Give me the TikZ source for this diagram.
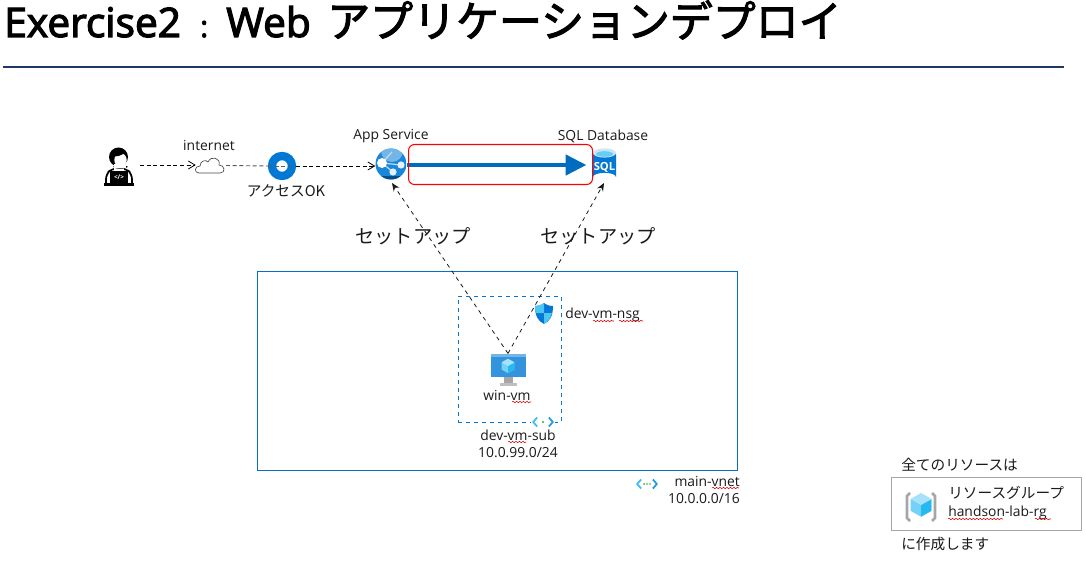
\documentclass[tikz,border=0pt]{standalone}
\usepackage{fontspec}
\setmainfont{Open Sans}
\newfontfamily\jp{Noto Sans CJK JP}
\newfontfamily\titlefont[FakeBold=3]{Open Sans}
\newfontfamily\titlejp[FakeBold=2.5]{Noto Sans CJK JP}
\usetikzlibrary{arrows.meta,decorations.pathmorphing}
\definecolor{azure}{HTML}{0078D4}
\definecolor{azline}{HTML}{0A6FC2}
\definecolor{navy}{HTML}{1F3864}
\definecolor{txt}{HTML}{1A1A1A}
\definecolor{chev}{HTML}{3CBDF2}
\definecolor{chevd}{HTML}{1E9BE8}
\tikzset{
 x=0.75pt,y=-0.75pt,
 lbl/.style={inner sep=0pt,text=txt,font=\fontsize{10.4pt}{13pt}\selectfont,align=center},
 lblj/.style={inner sep=0pt,text=txt,font=\jp\fontsize{11pt}{13pt}\selectfont},
 setup/.style={inner sep=0pt,text=txt,font=\jp\fontsize{14.4pt}{16pt}\selectfont},
 ttl/.style={inner sep=0pt,text=black,anchor=base west},
 anchorbox/.style={inner sep=0pt,minimum width=#1,minimum height=#1},
 flow/.style={densely dashed,line width=0.6pt,black,-{Straight Barb[length=5pt,width=6pt]}},
 flowgray/.style={densely dashed,line width=0.7pt,black!65},
 setupline/.style={dashed,line width=0.6pt,black!90,-{Stealth[length=6pt,width=5pt]}},
 squig/.style={red!85!black,line width=0.4pt,decorate,decoration={snake,amplitude=0.55pt,segment length=2.6pt}},
}
\newcommand{\vneticon}[1]{%
 \draw[line width=1.3pt,chev,line join=round] ([xshift=-4.4pt,yshift=3.4pt]#1) -- ([xshift=-7.4pt]#1) -- ([xshift=-4.4pt,yshift=-3.4pt]#1);
 \draw[line width=1.3pt,chevd,line join=round] ([xshift=4.4pt,yshift=3.4pt]#1) -- ([xshift=7.4pt]#1) -- ([xshift=4.4pt,yshift=-3.4pt]#1);
}
\newcommand{\cube}[3]{%
 \fill[#3!55!white] (#1,#2) ++(0,-9) -- ++(8,4.5) -- ++(0,9) -- ++(-8,4.5) -- ++(-8,-4.5) -- ++(0,-9) -- cycle;
 \fill[#3!85!white] (#1,#2) -- ++(8,-4.5) -- ++(0,9) -- ++(-8,4.5) -- cycle;
 \fill[#3!35!white] (#1,#2) -- ++(8,-4.5) -- ++(-8,-4.5) -- ++(-8,4.5) -- cycle;
}
\begin{document}
\begin{tikzpicture}
\useasboundingbox (0,0) rectangle (1086,563);
\fill[white] (0,0) rectangle (1086,563);

% title
\node[ttl,font=\titlefont\fontsize{30.5pt}{34pt}\selectfont] (title) at (4,37) {Exercise2};
\node[ttl,font=\titlefont\fontsize{22pt}{24pt}\selectfont] (colon) at (200,37) {:};
\node[ttl,font=\titlefont\fontsize{30.5pt}{34pt}\selectfont] (web) at (226,37) {Web};
\node[ttl,font=\titlejp\fontsize{32.2pt}{34pt}\selectfont] (jptitle) at (327,37) {アプリケーションデプロイ};
\coordinate (ruleL) at (3,67); \coordinate (ruleR) at (1064,67);
\draw[navy,line width=1pt] (ruleL) -- (ruleR);

% containers
\node[draw=azline,line width=0.7pt,inner sep=0pt,minimum width=360pt,minimum height=149.25pt,anchor=north west] (vnet) at (256.7,271) {};
\node[draw=azure,dashed,line width=0.7pt,inner sep=0pt,minimum width=77.25pt,minimum height=94.5pt,anchor=north west] (sub) at (457.7,296) {};

% anchors for icons
\node[anchorbox=23pt] (user) at (119,167) {};
\node[anchorbox=12pt,minimum width=21pt] (cloud) at (210,165) {};
\node[circle,draw=azure,line width=6.2pt,fill=white,minimum size=15pt,inner sep=0pt] (access) at (282,166) {};
\node[circle,inner sep=0pt,minimum size=23.2pt] (app) at (391,164) {};
\node[anchorbox=24pt,minimum width=18pt] (sql) at (604,165) {};
\node[anchorbox=26pt] (vm) at (508,371) {};
\node[anchorbox=16pt] (nsg) at (544,313) {};

% user icon
\fill[black] (118.5,157) circle (9.5);
\fill[white] (120.5,160) ellipse (6.2 and 6.8);
\fill[black] (112,156) .. controls (116,157) and (122,156) .. (125,152) -- (120,148) -- (112,151) -- cycle;
\draw[black,line width=1.3pt,fill=white,rounded corners=4pt] (106,184) -- (106,174) -- (112,168.5) -- (126,168.5) -- (132,174) -- (132,184);
\fill[white] (114,166) rectangle (124,170);
\draw[black,line width=1pt] (120.5,166.8) ellipse (6 and 1.2);
\fill[white] (114,164) rectangle (126,168);
\fill[black] (110,171) rectangle (128,184);
\fill[black] (104,183) rectangle (134,186);
\node[inner sep=0pt,text=white,font=\fontsize{4.8pt}{5pt}\bfseries\selectfont] (code) at (119,177) {</>};

% cloud icon
\draw[black!70,line width=0.5pt,fill=white] (199,173) .. controls (194,173) and (194,166) .. (200,166)
  .. controls (200,161) and (206,159) .. (208,162) .. controls (211,155) and (221,158) .. (219,165)
  .. controls (225,165) and (226,173) .. (220,173) -- cycle;

% flows
\draw[flow] (140,165) -- (cloud.west);
\draw[flowgray] (226,165.5) -- (access.west);
\draw[flowgray] (access.west) -- (access.east);
\draw[flow] (access.east) -- (access.east -| app.west);

% app service icon
\begin{scope}
\clip (391,164) circle (15.5);
\fill[azure!90!white] (375,148) rectangle (407,180);
\fill[azure!55!white] (392,151) circle (11);
\fill[black!35!azure] (376,176) rectangle (406,182);
\end{scope}
\draw[white!75!azure,line width=0.9pt] (382,163) -- (401,165) (382,163) -- (393,172) (382,163) -- (392,152);
\fill[white] (382,163) circle (5);
\fill[white!90!azure] (401,165) circle (3.6);
\fill[white!90!azure] (393,172) circle (3.6);

% sql icon
\fill[azure] (593,154) -- (593,177) arc (180:360:11.5 and 4.2) -- (616,154) -- cycle;
\fill[white!80!azure] (604.5,153) ellipse (11.5 and 4.6);
\fill[cyan!60] (604.5,154) ellipse (8.5 and 2.8);
\node[inner sep=0pt,text=white,font=\bfseries\fontsize{8.4pt}{9pt}\selectfont] (sqltxt) at (604.5,167) {SQL};

% blue arrow + red box
\draw[azure!90!black,line width=3pt,-{Triangle[length=15.5pt,width=15pt]},shorten >=4pt] (app.east |- sql.west) -- (sql.west);
\node[draw=red,line width=0.8pt,rounded corners=4.5pt,inner sep=0pt,minimum width=138pt,minimum height=30pt,anchor=north west] (redbox) at (408,144) {};

% vm icon
\fill[azure!80!white] (491,354) rectangle (526,377);
\fill[azure!55!white] (491,354) rectangle (526,357);
\fill[black!35] (504,377) rectangle (513,383);
\fill[black!25] (500,383) rectangle (517,386);
\begin{scope}[shift={(508,366)},scale=0.8]
\cube{0}{0}{cyan}
\end{scope}

% setup lines
\draw[setupline] (vm.north) -- (392,183);
\draw[setupline] (vm.north) -- (604,183);

% nsg shield
\fill[azure] (544,303) .. controls (548,306) and (551,306) .. (553,306) .. controls (553,316) and (550,321) .. (544,324) .. controls (538,321) and (535,316) .. (535,306) .. controls (537,306) and (540,306) .. (544,303) -- cycle;
\fill[cyan!70] (544,303) .. controls (540,306) and (537,306) .. (535,306) .. controls (535,309) and (535.3,311) .. (536,313) -- (544,313) -- cycle;
\fill[cyan!70] (544,313) -- (552,313) .. controls (550.5,318) and (548,322) .. (544,324) -- cycle;

% subnet + vnet icons
\coordinate (subicon) at (543,422);
\fill[white] (531,416) rectangle (555,428);
\vneticon{subicon}
\fill[green!60!black!80] (subicon) circle (0.9pt);
\coordinate (vneticon) at (647,484);
\vneticon{vneticon}
\foreach \dx in {-2.2,0,2.2} \fill[green!60!black!80] ([xshift=\dx pt]vneticon) circle (0.7pt);

% resource group
\node[draw=black!35,line width=0.8pt,inner sep=0pt,minimum width=142.5pt,minimum height=39.75pt,anchor=north west] (rg) at (891,477) {};
\begin{scope}[shift={(921,505)},scale=1.3]
\cube{0}{0}{cyan}
\end{scope}
\draw[black!35,line width=2pt] (910,493) -- (907,496) -- (907,518) -- (910,521);
\draw[black!35,line width=2pt] (932,493) -- (935,496) -- (935,518) -- (932,521);

% labels
\node[lbl] (linternet) at (209,145) {internet};
\node[lblj] (laccess) at (286,191) {アクセスOK};
\node[lbl] (lapp) at (391,136) {App Service};
\node[lbl] (lsql) at (603,136) {SQL Database};
\node[setup] (s1) at (413,236) {セットアップ};
\node[setup] (s2) at (598,236) {セットアップ};
\node[lbl] (lvm) at (507,395) {win-vm};
\node[lbl,anchor=west] (lnsg) at (565,315) {dev-vm-nsg};
\node[lbl] (lsub) at (518,444) {dev-vm-sub\\10.0.99.0/24};
\node[lbl,align=right,anchor=east] (lvnet) at (740,490) {main-vnet\\10.0.0.0/16};
\node[lblj,anchor=west] (all) at (901,465) {全てのリソースは};
\node[lblj,anchor=west] (rg1) at (948,493) {リソースグループ};
\node[lbl,anchor=west] (rg2) at (948,513) {handson-lab-rg};
\node[lblj,anchor=west] (made) at (901,544) {に作成します};

% spell-check squiggles
\draw[squig] (512,402) -- (531,402);
\draw[squig] (593,321) -- (614,321);
\draw[squig] (619,321) -- (643,321);
\draw[squig] (508,442) -- (526,442);
\draw[squig] (712,488) -- (739,488);
\draw[squig] (948,519) -- (1003,519);
\draw[squig] (1035,519) -- (1051,519);
\end{tikzpicture}
\end{document}
